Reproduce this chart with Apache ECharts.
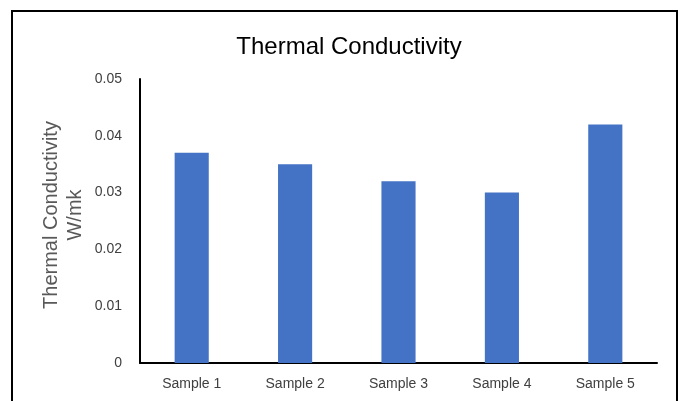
<!DOCTYPE html>
<html>
<head>
<meta charset="utf-8">
<script src="https://cdn.jsdelivr.net/npm/echarts@6/dist/echarts.min.js"></script>
<style>
html,body{margin:0;padding:0;background:#fff;}
#chart{width:686px;height:401px;}
</style>
</head>
<body>
<div id="chart"></div>
<script>
const categories = ['Sample 1', 'Sample 2', 'Sample 3', 'Sample 4', 'Sample 5'];
const conductivity = [0.037, 0.035, 0.032, 0.030, 0.042];
const chartTitle = 'Thermal Conductivity';
const yAxisName = 'Thermal Conductivity\nW/mk';

const chart = echarts.init(document.getElementById('chart'), null, {renderer: 'canvas'});
const FONT = '"Liberation Sans", Arial, sans-serif';
chart.setOption({
  animation: false,
  backgroundColor: '#ffffff',
  textStyle: {fontFamily: FONT},
  title: {
    text: chartTitle,
    left: 344,
    textAlign: 'center',
    top: 30,
    textStyle: {fontFamily: FONT, fontSize: 24, fontWeight: 'normal', color: '#000000'}
  },
  graphic: [{
    type: 'rect',
    shape: {x: 12, y: 11, width: 665, height: 420},
    style: {fill: 'none', stroke: '#000000', lineWidth: 2},
    silent: true
  }],
  grid: {left: 140, right: 29, top: 79, bottom: 38, containLabel: false},
  xAxis: {
    type: 'category',
    data: categories,
    axisLine: {show: true, lineStyle: {color: '#000000', width: 2}},
    axisTick: {show: false},
    axisLabel: {fontFamily: FONT, fontSize: 14, color: '#404040', margin: 14}
  },
  yAxis: {
    type: 'value',
    min: 0,
    max: 0.05,
    interval: 0.01,
    name: yAxisName,
    nameLocation: 'middle',
    nameGap: 53,
    nameMoveOverlap: false,
    nameTextStyle: {fontFamily: FONT, fontSize: 20, color: '#595959', lineHeight: 24, padding: [0, 0, 0, 12]},
    axisLine: {show: true, lineStyle: {color: '#000000', width: 2}},
    axisTick: {show: false},
    splitLine: {show: false},
    axisLabel: {
      fontFamily: FONT, fontSize: 14, color: '#404040', margin: 18,
      formatter: v => (v === 0 ? '0' : v.toFixed(2))
    }
  },
  series: [{
    type: 'bar',
    data: conductivity,
    barWidth: '33%',
    itemStyle: {color: '#4472C4'}
  }]
});
</script>
</body>
</html>
